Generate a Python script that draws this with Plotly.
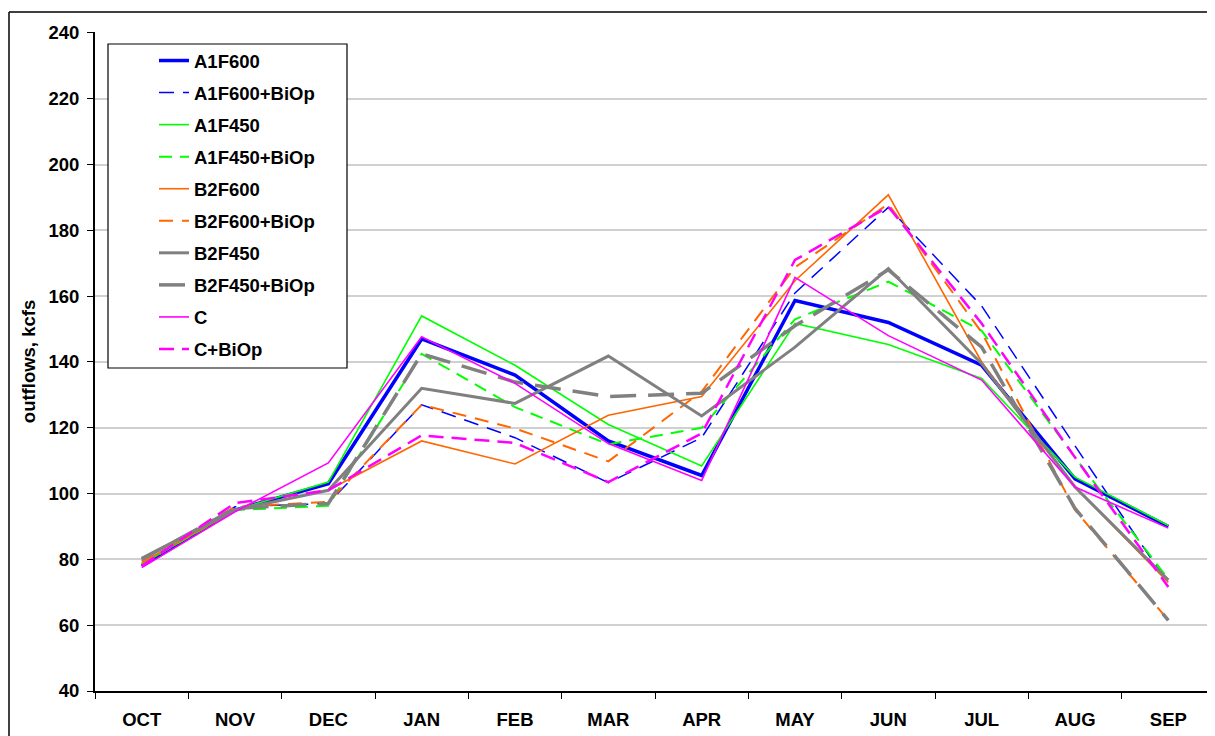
import plotly.graph_objects as go

months = ["OCT", "NOV", "DEC", "JAN", "FEB", "MAR", "APR", "MAY", "JUN", "JUL", "AUG", "SEP"]

a1f600 = [78, 95, 103, 147, 136, 116, 105.5, 158.7, 152, 139, 104.5, 90]
a1f600_biop = [78.5, 96, 97, 127, 117, 103.3, 117, 161, 187, 157, 114.5, 72.5]
a1f450 = [78.5, 95, 103.5, 154, 139, 121, 108.4, 151.7, 145.3, 135, 105, 90.3]
a1f450_biop = [78.5, 95, 96.3, 142.5, 126.3, 115, 120, 153, 164.4, 149.5, 111, 74]
b2f600 = [79, 95, 101, 116, 109, 123.8, 129.5, 164.7, 190.8, 140, 102, 73]
b2f600_biop = [79.5, 96, 97.5, 127, 119.8, 109.8, 131, 168.8, 188, 149, 95, 61.5]
b2f450 = [80.3, 95, 101, 132, 127.4, 141.8, 123.6, 144.5, 168.4, 139.5, 102, 73.7]
b2f450_biop = [80, 95.5, 97, 142.5, 133.9, 129.5, 130.5, 151, 168, 144.5, 95.5, 61.5]
c_base = [77.5, 94.5, 109.3, 147.7, 133.5, 115.2, 104, 165.7, 148, 134.5, 102, 89.5]
c_biop = [78, 97.1, 101, 117.7, 115.4, 103.5, 118.3, 171, 187.2, 151.7, 111, 71.6]

series = [
    ("A1F600", a1f600, "#0000FF", 3.5, "solid"),
    ("A1F600+BiOp", a1f600_biop, "#0000FF", 1.5, "15px,9px"),
    ("A1F450", a1f450, "#00FF00", 1.6, "solid"),
    ("A1F450+BiOp", a1f450_biop, "#00FF00", 2, "13px,8px"),
    ("B2F600", b2f600, "#FF6600", 1.6, "solid"),
    ("B2F600+BiOp", b2f600_biop, "#FF6600", 2, "14px,9px"),
    ("B2F450", b2f450, "#808080", 3, "solid"),
    ("B2F450+BiOp", b2f450_biop, "#808080", 3.5, "26px,12px"),
    ("C", c_base, "#FF00FF", 1.6, "solid"),
    ("C+BiOp", c_biop, "#FF00FF", 2.5, "15px,8px"),
]

fig = go.Figure()
for i, (name, vals, color, w, dash) in enumerate(series):
    fig.add_trace(go.Scatter(
        x=months, y=vals, name=name, mode="lines",
        line=dict(color=color, width=w, dash=dash),
        legendgroup="g%d" % i,
    ))

# page body has an 8px margin; figure is sized so it ends at the window edge
OFF = 8
W, H = 1215 - OFF, 736 - OFF
# desired plot area in screen pixels
SX0, SX1, SY0, SY1 = 95, 1215, 32, 691
L, T = SX0 - OFF, SY0 - OFF
R, B = (OFF + W) - SX1, (OFF + H) - SY1
pw, ph = SX1 - SX0, SY1 - SY0

def px_x(p):
    return (p - SX0) / pw

def px_y(p):
    return 1 - (p - SY0) / ph

font_family = "Liberation Sans, Arial, sans-serif"
FS = 18.5

fig.update_layout(
    width=W, height=H,
    margin=dict(l=L, r=R, t=T, b=B, pad=0, autoexpand=False),
    paper_bgcolor="white", plot_bgcolor="white",
    font=dict(family=font_family, size=FS, color="black", weight="bold"),
    showlegend=True,
    legend=dict(
        x=px_x(154), y=px_y(42), xanchor="left", yanchor="top",
        bgcolor="rgba(0,0,0,0)", borderwidth=0,
        font=dict(family=font_family, size=FS, color="black", weight="bold"),
        tracegroupgap=5,
    ),
    xaxis=dict(
        type="category", range=[-0.5, 11.5], tickson="boundaries",
        ticks="outside", ticklen=6, automargin=False, ticklabelstandoff=11,
        tickcolor="black", showline=True, linecolor="black", linewidth=2,
        showgrid=False, zeroline=False,
        tickfont=dict(family=font_family, size=FS, color="black", weight="bold"),
    ),
    yaxis=dict(
        range=[40, 240.3], dtick=20, tick0=40, ticks="outside", ticklen=6,
        automargin=False, ticklabelstandoff=4,
        tickcolor="black", showline=True, linecolor="black", linewidth=2,
        showgrid=True, gridcolor="#D0D0D0", gridwidth=1.5, zeroline=False,
        tickfont=dict(family=font_family, size=FS, color="black", weight="bold"),
        title=dict(text="outflows, kcfs", standoff=8,
                   font=dict(family=font_family, size=FS, color="black", weight="bold")),
    ),
    shapes=[
        dict(type="rect", xref="paper", yref="paper",
             x0=px_x(108), x1=px_x(347), y0=px_y(368), y1=px_y(44),
             line=dict(color="black", width=1.2), fillcolor="white", layer="above"),
        dict(type="line", xref="paper", yref="paper",
             x0=px_x(OFF + 1), x1=px_x(OFF + 1), y0=px_y(740), y1=px_y(12),
             line=dict(color="black", width=1.5)),
        dict(type="line", xref="paper", yref="paper",
             x0=px_x(OFF + 1), x1=px_x(1220), y0=px_y(12), y1=px_y(12),
             line=dict(color="black", width=1.5)),
    ],
)

fig.write_html("out.html")
